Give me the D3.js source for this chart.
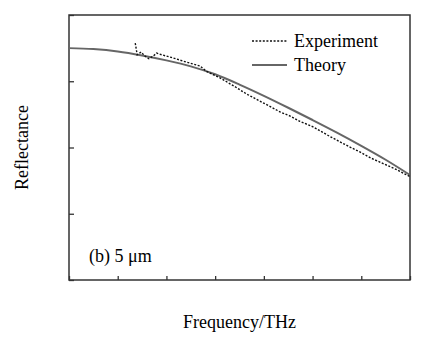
<!DOCTYPE html>
<html>
<head>
<meta charset="utf-8">
<script src="https://cdn.jsdelivr.net/npm/d3@7"></script>
</head>
<body style="margin:0">
<script>
// reflectance vs frequency, experiment (dashed) and theory (solid)

const width = 425,
    height = 338,
    margin = ({ top: 15, right: 15, bottom: 58, left: 69 });

const serif = "Times New Roman";

// theory curve
const theoryFreq = [0, 0.25, 0.5, 0.75, 1.0, 1.25, 1.5, 1.75, 2.0, 2.25, 2.5, 2.75, 3.0, 3.25, 3.5];
const theoryRefl = [1.000, 0.997, 0.990, 0.978, 0.963, 0.945, 0.921, 0.890, 0.856, 0.820, 0.783, 0.745, 0.705, 0.663, 0.617];

// measured curve
const expFreq = [0.68, 0.70, 0.74, 0.78, 0.82, 0.86, 0.90, 0.95, 1.05, 1.17, 1.345, 1.41, 1.55, 1.69, 1.82, 1.94,
    2.05, 2.17, 2.27, 2.37, 2.5, 2.68, 2.885, 2.99, 3.1, 3.22, 3.35, 3.5];
const expRefl = [1.015, 0.980, 0.988, 0.976, 0.968, 0.975, 0.985, 0.980, 0.972, 0.961, 0.946, 0.930, 0.910, 0.886, 0.862, 0.843,
    0.826, 0.807, 0.795, 0.779, 0.763, 0.733, 0.701, 0.686, 0.668, 0.652, 0.635, 0.612];

const xTicks = [0, 0.5, 1.0, 1.5, 2.0, 2.5, 3.0, 3.5];
const yTicks = [0.3, 0.5, 0.7, 0.9, 1.1];

const theory = theoryFreq.map((f, i) => ({ f: f, r: theoryRefl[i] }));
const experiment = expFreq.map((f, i) => ({ f: f, r: expRefl[i] }));

let svg = d3.select("body")
    .append("svg")
    .attr("width", width)
    .attr("height", height)
    .style("font-family", `"${serif}"`);

let x = d3.scaleLinear()
    .domain([0, 3.5])
    .range([margin.left, width - margin.right]);

let y = d3.scaleLinear()
    .domain([0.3, 1.1])
    .range([height - margin.bottom, margin.top]);

// ticks point inward, labels styled by hand
let xAxis = svg.append("g")
    .attr("transform", `translate(0,${height - margin.bottom})`)
    .call(d3.axisBottom(x).tickValues(xTicks).tickSize(-4).tickPadding(11).tickSizeOuter(0)
        .tickFormat(d => d === 0 ? "0" : d3.format(".1f")(d)));

let yAxis = svg.append("g")
    .attr("transform", `translate(${margin.left},0)`)
    .call(d3.axisLeft(y).tickValues(yTicks).tickSize(-5).tickPadding(7).tickSizeOuter(0)
        .tickFormat(d3.format(".1f")));

// all text in one serif style
function label(sel) {
    return sel.style("font-family", `"${serif}"`)
        .attr("font-size", 18);
}

for (let g of [xAxis, yAxis]) {
    g.attr("font-family", null).attr("font-size", null);
    g.select(".domain").remove();
    g.selectAll("line").attr("stroke", "#333").attr("stroke-width", 1.3);
    g.selectAll("text").call(label).attr("fill", null);
}
xAxis.selectAll("text").attr("dy", "0.71em");
yAxis.selectAll("text").attr("dy", "0.36em");

// frame
svg.append("rect")
    .attr("x", margin.left)
    .attr("y", margin.top)
    .attr("width", width - margin.left - margin.right)
    .attr("height", height - margin.top - margin.bottom)
    .attr("fill", "none")
    .attr("stroke", "#333")
    .attr("stroke-width", 1.5);

let line = d3.line()
    .x(d => x(d.f))
    .y(d => y(d.r));

svg.append("path")
    .datum(theory)
    .attr("d", line.curve(d3.curveMonotoneX))
    .attr("fill", "none")
    .attr("stroke", "#666")
    .attr("stroke-width", 2);

svg.append("path")
    .datum(experiment)
    .attr("d", line.curve(d3.curveLinear))
    .attr("fill", "none")
    .attr("stroke", "#111")
    .attr("stroke-width", 1.4)
    .attr("stroke-dasharray", "2,1.6");

// legend
const legend = [
    { label: "Experiment", y: 41, dash: "2,1.6", color: "#111", w: 1.4 },
    { label: "Theory", y: 65, dash: null, color: "#666", w: 2 }
];
let lg = svg.append("g");
lg.selectAll("line")
    .data(legend)
    .join("line")
    .attr("x1", 252).attr("x2", 287)
    .attr("y1", d => d.y).attr("y2", d => d.y)
    .attr("stroke", d => d.color)
    .attr("stroke-width", d => d.w)
    .attr("stroke-dasharray", d => d.dash);
lg.selectAll("text")
    .data(legend)
    .join("text")
    .attr("x", 294)
    .attr("y", d => d.y + 6)
    .call(label)
    .text(d => d.label);

// annotation
svg.append("text")
    .attr("x", 89)
    .attr("y", 262)
    .call(label)
    .text("(b) 5 μm");

// axis titles
svg.append("text")
    .attr("text-anchor", "middle")
    .attr("x", (margin.left + width - margin.right) / 2)
    .attr("y", 328)
    .call(label)
    .text("Frequency/THz");

svg.append("text")
    .attr("text-anchor", "middle")
    .attr("transform", `translate(28,${(margin.top + height - margin.bottom) / 2}) rotate(-90)`)
    .call(label)
    .text("Reflectance");
</script>
</body>
</html>
